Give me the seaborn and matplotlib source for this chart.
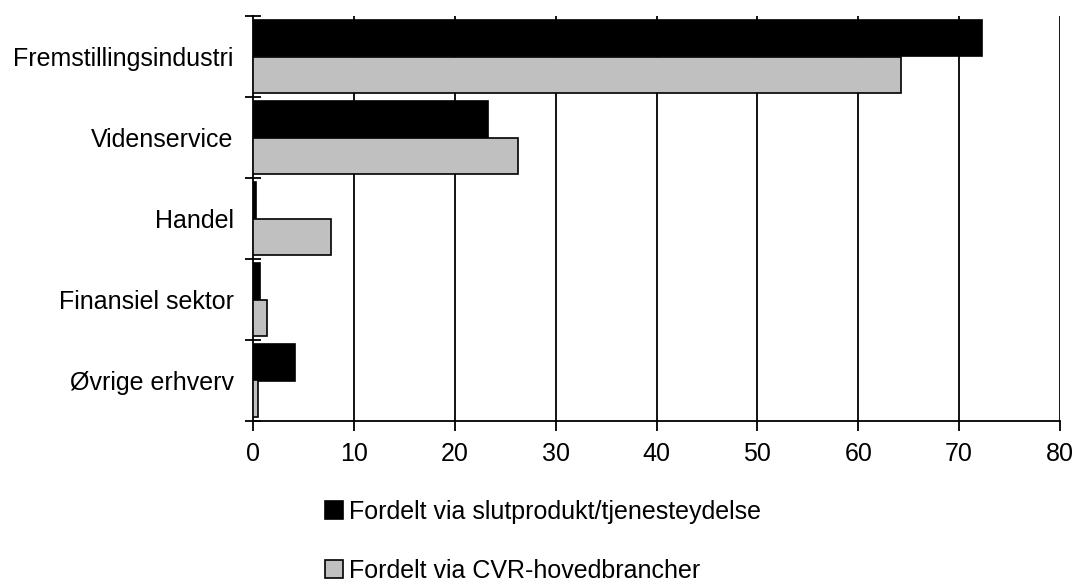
import numpy as np
import pandas as pd
import matplotlib
matplotlib.use("Agg")
import matplotlib.pyplot as plt
import seaborn as sns

categories = ["Fremstillingsindustri", "Videnservice", "Handel", "Finansiel sektor", "Øvrige erhverv"]
series_names = ["Fordelt via slutprodukt/tjenesteydelse", "Fordelt via CVR-hovedbrancher"]
slutprodukt = [72.3, 23.3, 0.3, 0.7, 4.2]
cvr = [64.2, 26.3, 7.7, 1.4, 0.5]

df = pd.DataFrame({
    "Branche": categories * 2,
    "Andel": slutprodukt + cvr,
    "Serie": [series_names[0]] * len(categories) + [series_names[1]] * len(categories),
})

sns.set_style("white")
plt.rcParams["font.family"] = ["Liberation Sans", "DejaVu Sans"]

fig = plt.figure(figsize=(10.73, 5.81), dpi=100)
ax = fig.add_axes([253 / 1073, 1 - 421 / 581, (1060 - 253) / 1073, (421 - 16) / 581])

sns.barplot(data=df, y="Branche", x="Andel", hue="Serie", order=categories,
            hue_order=series_names, palette=["black", "#c0c0c0"], width=0.9,
            edgecolor="black", linewidth=1.2, ax=ax, orient="h", zorder=3)

ax.set_xlim(0, 80)
ax.set_ylim(4.5, -0.5)
ax.set_xticks(np.arange(0, 81, 10))
for x in range(10, 81, 10):
    ax.axvline(x, color="black", lw=1.3, zorder=1)

ax.set_xlabel("")
ax.set_ylabel("")
for s in ["top", "right"]:
    ax.spines[s].set_visible(False)
for s in ["left", "bottom"]:
    ax.spines[s].set_color("black")
    ax.spines[s].set_linewidth(1.3)

ax.tick_params(axis="x", bottom=True, direction="out", length=7, width=1.3, labelsize=18,
               pad=8, colors="black")
ax.tick_params(axis="y", which="major", left=True, length=0, labelsize=18, pad=14,
               labelcolor="black")
ax.set_yticks(np.arange(-0.5, 5, 1), minor=True)
ax.tick_params(axis="y", which="minor", left=True, direction="inout", length=12, width=1.3,
               color="black")

handles, labels = ax.get_legend_handles_labels()
ax.legend_.remove()
leg = fig.legend(handles, labels, loc="upper left", bbox_to_anchor=(325 / 1073, 1 - 500 / 581),
                 frameon=False, fontsize=18, handlelength=0.72, handleheight=0.72,
                 handletextpad=0.25, labelspacing=1.39, borderaxespad=0, borderpad=0)
for t in leg.get_texts():
    t.set_color("black")

fig.savefig("out.png", dpi=100)
